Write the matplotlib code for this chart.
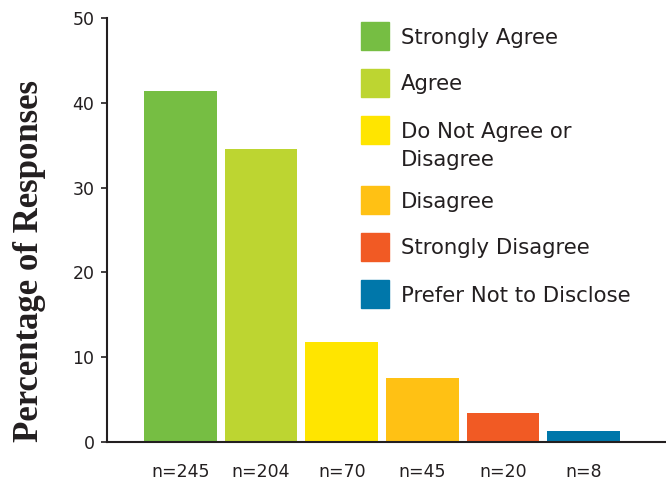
import matplotlib
matplotlib.use("Agg")
import matplotlib.pyplot as plt
from matplotlib.patches import Rectangle

categories = ["Strongly Agree", "Agree", "Do Not Agree or\nDisagree", "Disagree",
              "Strongly Disagree", "Prefer Not to Disclose"]
counts = [245, 204, 70, 45, 20, 8]
percentages = [41.4, 34.5, 11.8, 7.6, 3.4, 1.35]
tick_labels = ["n=245", "n=204", "n=70", "n=45", "n=20", "n=8"]
colors = ["#76BE43", "#BDD531", "#FFE500", "#FFC114", "#F15A24", "#0077AA"]
y_ticks = [0, 10, 20, 30, 40, 50]

W, H = 666, 480
fig = plt.figure(figsize=(W / 100, H / 100), dpi=100)
ax = fig.add_axes([107 / W, (H - 442) / H, (W - 107) / W, (442 - 18) / H])

sans = ["DejaVu Sans"]
txt_color = "#231f20"

x = list(range(len(categories)))
ax.bar(x, percentages, width=0.9, color=colors, zorder=2)
ax.set_xlim(-0.91, len(categories) - 1 + 1.02)
ax.set_ylim(0, 50)
ax.set_yticks(y_ticks)
ax.set_xticks(x)
ax.set_xticklabels(tick_labels, fontsize=12.5, family=sans, color=txt_color)
for lab in ax.get_yticklabels():
    lab.set_fontsize(12.5)
    lab.set_family(sans)
    lab.set_color(txt_color)
ax.tick_params(axis="x", length=0, pad=15)
ax.tick_params(axis="y", length=4, width=1.2, pad=5, color=txt_color)
for s in ["top", "right"]:
    ax.spines[s].set_visible(False)
for s in ["left", "bottom"]:
    ax.spines[s].set_linewidth(1.5)
    ax.spines[s].set_color(txt_color)

fig.text(30 / W, (H - 261) / H, "Percentage of Responses", rotation=90,
         ha="center", va="center", fontsize=25, fontweight="bold",
         family=["Liberation Serif", "DejaVu Serif"], color=txt_color)

# manual legend
top = 22
for cat, col in zip(categories, colors):
    fig.patches.append(Rectangle((361 / W, (H - top - 28) / H), 28 / W, 28 / H,
                                 transform=fig.transFigure, color=col))
    lines = cat.split("\n")
    for i, ln in enumerate(lines):
        fig.text(401 / W, (H - top - 21.5 - 28 * i) / H, ln, ha="left",
                 va="baseline", fontsize=15.3, family=sans, color=txt_color)
    top += 47 + 23 * (len(lines) - 1)

fig.savefig("out.png", dpi=100)
